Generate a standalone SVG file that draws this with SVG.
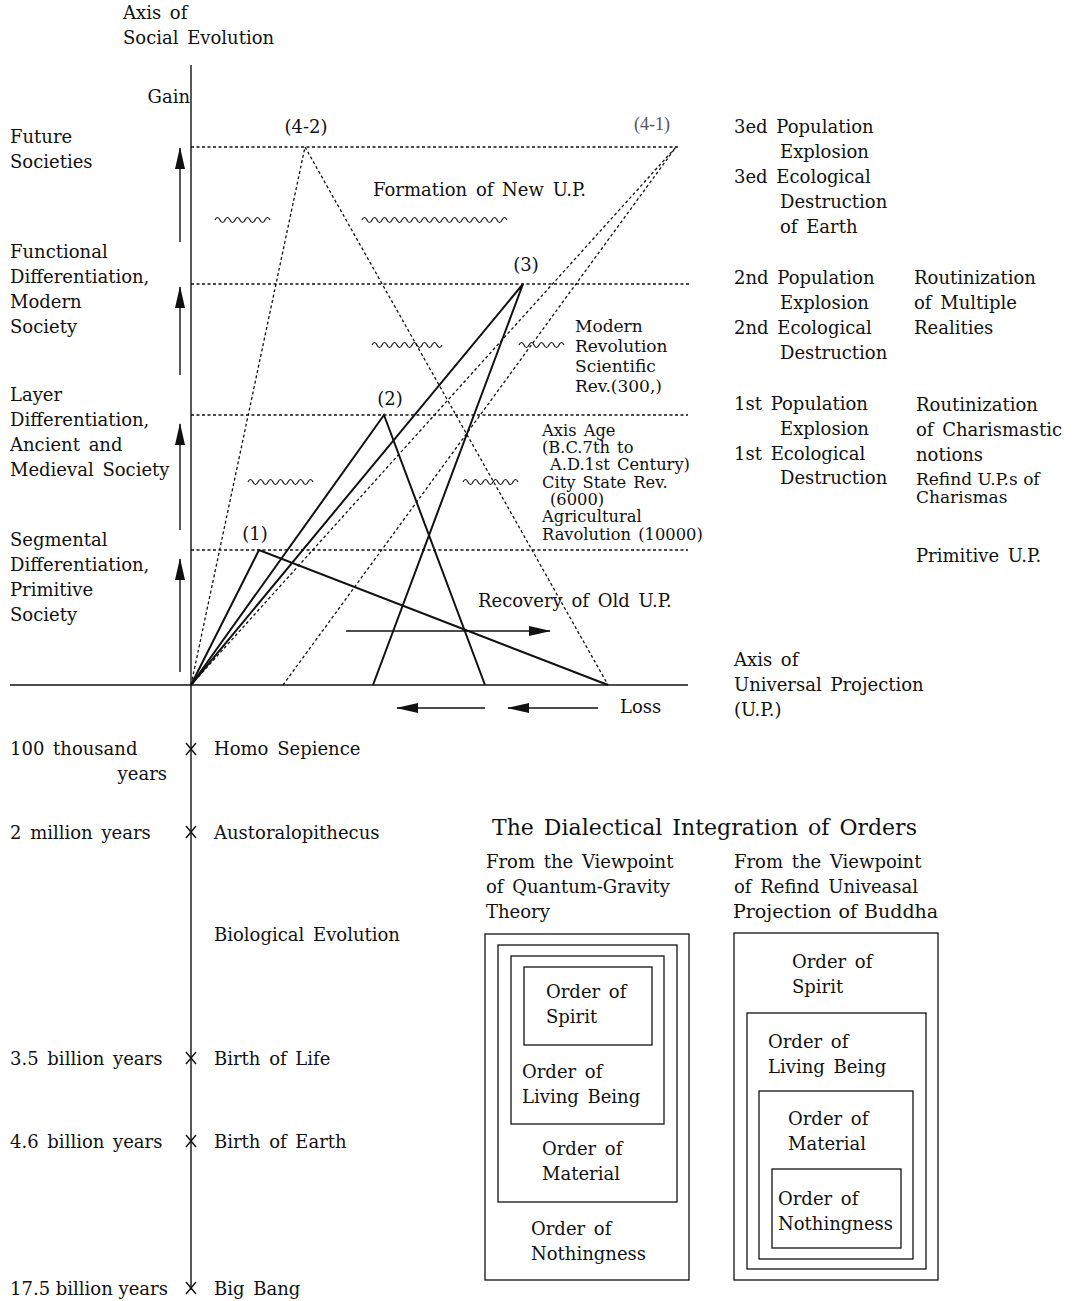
<svg xmlns="http://www.w3.org/2000/svg" width="1074" height="1301" viewBox="0 0 1074 1301">
<style>
text{font-family:"DejaVu Serif","Liberation Serif",serif;fill:#111;font-size:18px;word-spacing:3px}
.m{font-size:17px}
.sm{font-size:16.3px;word-spacing:2px}
.c{font-size:17px;word-spacing:0}
.g{fill:#555;font-family:"Liberation Serif",serif;font-size:18px}
.big{font-size:22px}
.ax{stroke:#111;stroke-width:1.4;fill:none}
.dot{stroke:#111;stroke-width:1.3;stroke-dasharray:3 2.5;fill:none}
.sol{stroke:#111;stroke-width:2;fill:none}
.wv{stroke:#111;stroke-width:1.2;fill:none}
.bx{stroke:#111;stroke-width:1.3;fill:none}
.arr{stroke:#111;stroke-width:1.4;fill:none;marker-end:url(#ah)}
</style>
<defs>
<marker id="ah" markerUnits="userSpaceOnUse" markerWidth="22" markerHeight="10" refX="21" refY="5" orient="auto">
<path d="M0,0 L22,5 L0,10 z" fill="#111"/>
</marker>
</defs>
<rect width="1074" height="1301" fill="#fff"/>

<g id="connectors">
<line class="ax" x1="191" y1="65" x2="191" y2="1290"/>
<line class="ax" x1="10" y1="685" x2="688" y2="685"/>
<line class="dot" x1="191" y1="147" x2="680" y2="147"/>
<line class="dot" x1="191" y1="284" x2="690" y2="284"/>
<line class="dot" x1="191" y1="415" x2="688" y2="415"/>
<line class="dot" x1="191" y1="550" x2="688" y2="550"/>
<polyline class="dot" points="191,685 305,147 608,685"/>
<line class="dot" x1="191" y1="685" x2="676" y2="147"/>
<line class="dot" x1="283" y1="685" x2="676" y2="147"/>
<polyline class="sol" points="191,685 259,550 608,685"/>
<polyline class="sol" points="191,685 384,415 485,685"/>
<polyline class="sol" points="191,685 523,284 373,685"/>
<line class="arr" x1="180" y1="242" x2="180" y2="148"/>
<line class="arr" x1="180" y1="375" x2="180" y2="287"/>
<line class="arr" x1="180" y1="530" x2="180" y2="424"/>
<line class="arr" x1="180" y1="672" x2="180" y2="559"/>
<line class="arr" x1="346" y1="631" x2="550" y2="631"/>
<line class="arr" x1="485" y1="708" x2="397" y2="708"/>
<line class="arr" x1="598" y1="708" x2="508" y2="708"/>
<path class="wv" d="M215,220 q2.5,-5 5,0 t5,0 t5,0 t5,0 t5,0 t5,0 t5,0 t5,0 t5,0 t5,0 t5,0"/>
<path class="wv" d="M362,220 q2.5,-5 5,0 t5,0 t5,0 t5,0 t5,0 t5,0 t5,0 t5,0 t5,0 t5,0 t5,0 t5,0 t5,0 t5,0 t5,0 t5,0 t5,0 t5,0 t5,0 t5,0 t5,0 t5,0 t5,0 t5,0 t5,0 t5,0 t5,0 t5,0 t5,0"/>
<path class="wv" d="M372,345 q2.5,-5 5,0 t5,0 t5,0 t5,0 t5,0 t5,0 t5,0 t5,0 t5,0 t5,0 t5,0 t5,0 t5,0 t5,0"/>
<path class="wv" d="M519,345 q2.5,-5 5,0 t5,0 t5,0 t5,0 t5,0 t5,0 t5,0 t5,0 t5,0"/>
<path class="wv" d="M248,482 q2.5,-5 5,0 t5,0 t5,0 t5,0 t5,0 t5,0 t5,0 t5,0 t5,0 t5,0 t5,0 t5,0 t5,0"/>
<path class="wv" d="M463,482 q2.5,-5 5,0 t5,0 t5,0 t5,0 t5,0 t5,0 t5,0 t5,0 t5,0 t5,0 t5,0"/>
<path class="ax" d="M186,743 l10,12 M196,743 l-10,12"/>
<path class="ax" d="M186,826 l10,12 M196,826 l-10,12"/>
<path class="ax" d="M186,1052 l10,12 M196,1052 l-10,12"/>
<path class="ax" d="M186,1135 l10,12 M196,1135 l-10,12"/>
<path class="ax" d="M186,1282 l10,12 M196,1282 l-10,12"/>
</g>

<g id="axis-title">
<text x="123" y="19">Axis of</text>
<text x="123" y="44">Social Evolution</text>
<text x="190" y="103" text-anchor="end">Gain</text>
</g>

<g id="stage-labels">
<text x="10" y="143">Future</text>
<text x="10" y="168">Societies</text>
<text x="10" y="258">Functional</text>
<text x="10" y="283">Differentiation,</text>
<text x="10" y="308">Modern</text>
<text x="10" y="333">Society</text>
<text x="10" y="401">Layer</text>
<text x="10" y="426">Differentiation,</text>
<text x="10" y="451">Ancient and</text>
<text x="10" y="476">Medieval Society</text>
<text x="10" y="546">Segmental</text>
<text x="10" y="571">Differentiation,</text>
<text x="10" y="596">Primitive</text>
<text x="10" y="621">Society</text>
</g>

<g id="chart-labels">
<text x="306" y="133" text-anchor="middle">(4-2)</text>
<text class="g" x="634" y="130">(4-1)</text>
<text x="373" y="196">Formation of New U.P.</text>
<text x="526" y="271" text-anchor="middle">(3)</text>
<text x="390" y="405" text-anchor="middle">(2)</text>
<text x="255" y="540" text-anchor="middle">(1)</text>
<text class="m" x="575" y="332">Modern</text>
<text class="m" x="575" y="352">Revolution</text>
<text class="m" x="575" y="372">Scientific</text>
<text class="m" x="575" y="392">Rev.(300,)</text>
<text class="sm" x="542" y="436">Axis Age</text>
<text class="sm" x="542" y="453">(B.C.7th to</text>
<text class="sm" x="550" y="470">A.D.1st Century)</text>
<text class="sm" x="542" y="488">City State Rev.</text>
<text class="sm" x="550" y="505">(6000)</text>
<text class="sm" x="542" y="522">Agricultural</text>
<text class="sm" x="542" y="540">Ravolution (10000)</text>
<text x="478" y="607">Recovery of Old U.P.</text>
<text x="620" y="713">Loss</text>
<text x="734" y="666">Axis of</text>
<text x="734" y="691">Universal Projection</text>
<text x="734" y="716">(U.P.)</text>
</g>

<g id="right-labels">
<text x="734" y="133">3ed Population</text>
<text x="780" y="158">Explosion</text>
<text x="734" y="183">3ed Ecological</text>
<text x="780" y="208">Destruction</text>
<text x="780" y="233">of Earth</text>
<text x="734" y="284">2nd Population</text>
<text x="780" y="309">Explosion</text>
<text x="734" y="334">2nd Ecological</text>
<text x="780" y="359">Destruction</text>
<text x="914" y="284">Routinization</text>
<text x="914" y="309">of Multiple</text>
<text x="914" y="334">Realities</text>
<text x="734" y="410">1st Population</text>
<text x="780" y="435">Explosion</text>
<text x="734" y="460">1st Ecological</text>
<text x="780" y="484">Destruction</text>
<text x="916" y="411">Routinization</text>
<text x="916" y="436">of Charismastic</text>
<text x="916" y="461">notions</text>
<text class="c" x="916" y="485">Refind U.P.s of</text>
<text class="c" x="916" y="503">Charismas</text>
<text x="916" y="562">Primitive U.P.</text>
</g>

<g id="timeline">
<text x="10" y="755">100 thousand</text>
<text x="167" y="780" text-anchor="end">years</text>
<text x="214" y="755">Homo Sepience</text>
<text x="10" y="839">2 million years</text>
<text x="214" y="839">Austoralopithecus</text>
<text x="214" y="941">Biological Evolution</text>
<text x="10" y="1065">3.5 billion years</text>
<text x="214" y="1065">Birth of Life</text>
<text x="10" y="1148">4.6 billion years</text>
<text x="214" y="1148">Birth of Earth</text>
<text x="10" y="1295" style="word-spacing:0">17.5 billion years</text>
<text x="214" y="1295">Big Bang</text>
</g>

<g id="orders-title">
<text class="big" x="492" y="835">The Dialectical Integration of Orders</text>
</g>

<g id="orders-quantum">
<text x="486" y="868">From the Viewpoint</text>
<text x="486" y="893">of Quantum-Gravity</text>
<text x="486" y="918">Theory</text>
<rect class="bx" x="485" y="934" width="204" height="346"/>
<rect class="bx" x="498" y="945" width="179" height="257"/>
<rect class="bx" x="511" y="956" width="153" height="168"/>
<rect class="bx" x="524" y="967" width="128" height="78"/>
<text x="546" y="998">Order of</text>
<text x="546" y="1023">Spirit</text>
<text x="522" y="1078">Order of</text>
<text x="522" y="1103">Living Being</text>
<text x="542" y="1155">Order of</text>
<text x="542" y="1180">Material</text>
<text x="531" y="1235">Order of</text>
<text x="531" y="1260">Nothingness</text>
</g>

<g id="orders-buddha">
<text x="734" y="868">From the Viewpoint</text>
<text x="734" y="893">of Refind Univeasal</text>
<text x="733" y="918" style="font-size:19px;word-spacing:1px">Projection of Buddha</text>
<rect class="bx" x="734" y="933" width="204" height="347"/>
<rect class="bx" x="747" y="1013" width="179" height="256"/>
<rect class="bx" x="759" y="1091" width="154" height="168"/>
<rect class="bx" x="772" y="1169" width="129" height="79"/>
<text x="792" y="968">Order of</text>
<text x="792" y="993">Spirit</text>
<text x="768" y="1048">Order of</text>
<text x="768" y="1073">Living Being</text>
<text x="788" y="1125">Order of</text>
<text x="788" y="1150">Material</text>
<text x="778" y="1205">Order of</text>
<text x="778" y="1230">Nothingness</text>
</g>
</svg>
